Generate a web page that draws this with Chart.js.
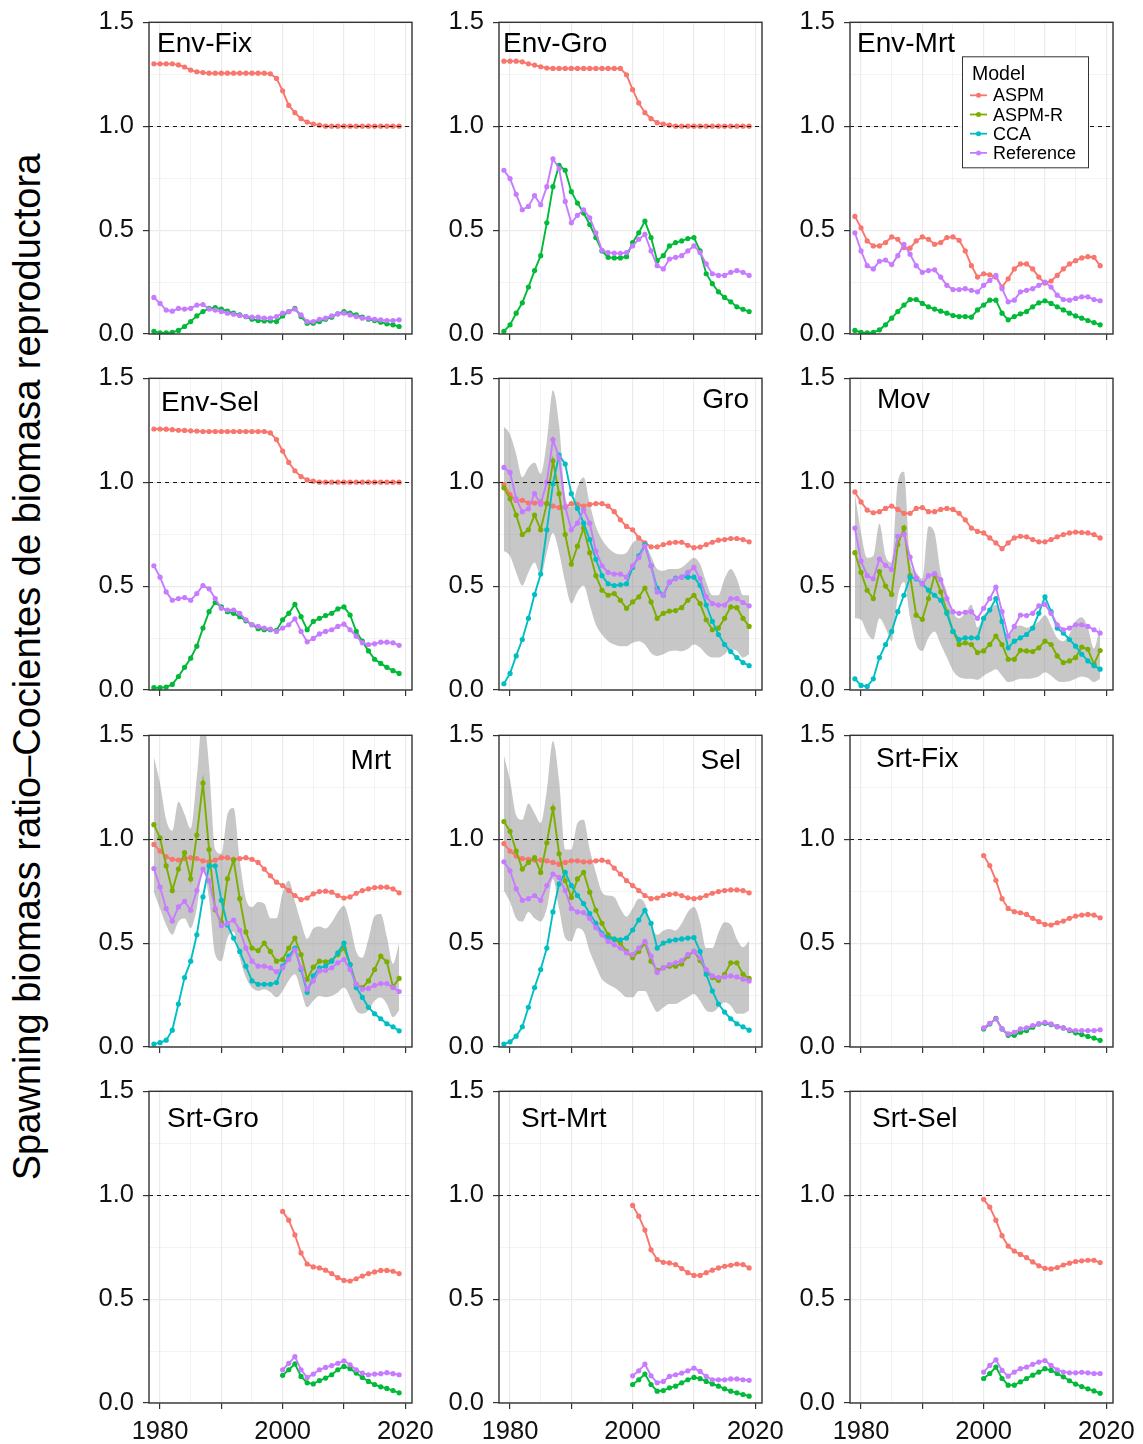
<!DOCTYPE html>
<html>
<head>
<meta charset="utf-8">
<script src="https://cdn.jsdelivr.net/npm/chart.js@4.4.0/dist/chart.umd.min.js"></script>
<style>
  html, body { margin: 0; padding: 0; background: #fff; }
  #page { position: relative; width: 1143px; height: 1444px; overflow: hidden; font-family: "Liberation Sans", Arial, sans-serif; }
  #page canvas { position: absolute; }
  #ytitle { position: absolute; left: 27px; top: 667px; white-space: nowrap; font-size: 38px; line-height: 38px; color: #000;
            transform: translate(-50%, -50%) rotate(-90deg); }
</style>
</head>
<body>
<div id="page"><div id="ytitle">Spawning biomass ratio–Cocientes de biomasa reproductora</div></div>
<script>
// years on the x axis
var years = [1979,1980,1981,1982,1983,1984,1985,1986,1987,1988,1989,1990,1991,1992,1993,1994,1995,1996,1997,1998,
             1999,2000,2001,2002,2003,2004,2005,2006,2007,2008,2009,2010,2011,2012,2013,2014,2015,2016,2017,2018,2019];
var srtYears = [2000,2001,2002,2003,2004,2005,2006,2007,2008,2009,2010,2011,2012,2013,2014,2015,2016,2017,2018,2019];

var xTickValues = [1980, 2000, 2020];
var xTickLabels = ['1980', '2000', '2020'];
var yTickValues = [0, 0.5, 1, 1.5];
var yTickLabels = ['0.0', '0.5', '1.0', '1.5'];
var refLevel = 1.0;
var legendLabels = ['ASPM', 'ASPM-R', 'CCA', 'Reference'];

// Env-Fix
var envFixAspm = [1.30,1.30,1.30,1.30,1.295,1.285,1.27,1.262,1.258,1.255,1.255,1.255,1.255,1.255,1.255,1.255,1.255,1.255,1.255,1.252,
                  1.23,1.17,1.10,1.065,1.036,1.02,1.01,1.005,1.0,1.0,1.0,1.0,1.0,1.0,1.0,1.0,1.0,1.0,1.0,1.0,1.0];
var envFixAspmR = [0.013,0.005,0.005,0.008,0.017,0.036,0.06,0.087,0.108,0.123,0.127,0.12,0.11,0.10,0.092,0.084,0.071,0.065,0.063,0.063,
                   0.06,0.087,0.108,0.123,0.084,0.052,0.052,0.06,0.071,0.081,0.097,0.108,0.10,0.092,0.081,0.071,0.065,0.057,0.049,0.044,0.036];
var envFixRef = [0.176,0.147,0.115,0.11,0.123,0.12,0.123,0.139,0.142,0.12,0.115,0.108,0.10,0.095,0.089,0.084,0.081,0.081,0.076,0.076,
                 0.084,0.10,0.108,0.12,0.092,0.06,0.06,0.071,0.076,0.087,0.097,0.10,0.092,0.084,0.076,0.076,0.071,0.068,0.065,0.065,0.068];

// Env-Gro
var envGroAspm = [1.313,1.313,1.313,1.31,1.30,1.294,1.286,1.28,1.278,1.278,1.278,1.278,1.278,1.278,1.278,1.278,1.278,1.278,1.278,1.278,
                  1.247,1.176,1.112,1.065,1.036,1.017,1.01,1.005,1.0,1.0,1.0,1.0,1.0,1.0,1.0,1.0,1.0,1.0,1.0,1.0,1.0];
var envGroAspmR = [0.013,0.044,0.10,0.15,0.226,0.305,0.377,0.535,0.709,0.812,0.788,0.685,0.63,0.582,0.527,0.464,0.40,0.369,0.366,0.366,
                   0.372,0.44,0.487,0.543,0.464,0.353,0.377,0.424,0.44,0.448,0.459,0.464,0.40,0.29,0.242,0.203,0.176,0.155,0.131,0.119,0.108];
var envGroRef = [0.788,0.748,0.672,0.598,0.614,0.666,0.622,0.709,0.843,0.796,0.638,0.535,0.571,0.598,0.559,0.487,0.403,0.392,0.389,0.388,
                 0.392,0.424,0.456,0.479,0.40,0.329,0.313,0.361,0.369,0.377,0.40,0.424,0.392,0.337,0.29,0.282,0.282,0.297,0.305,0.297,0.282];

// Env-Mrt
var envMrtAspm = [0.566,0.511,0.448,0.424,0.424,0.44,0.467,0.456,0.416,0.413,0.448,0.467,0.456,0.432,0.44,0.464,0.467,0.451,0.40,0.329,
                  0.274,0.29,0.285,0.274,0.226,0.266,0.313,0.337,0.337,0.313,0.274,0.245,0.255,0.282,0.313,0.337,0.353,0.366,0.372,0.369,0.329];
var envMrtAspmR = [0.017,0.008,0.005,0.008,0.02,0.044,0.076,0.108,0.139,0.166,0.166,0.147,0.131,0.12,0.11,0.10,0.089,0.084,0.084,0.081,
                   0.116,0.139,0.163,0.163,0.10,0.068,0.084,0.097,0.108,0.131,0.15,0.16,0.147,0.131,0.116,0.10,0.087,0.076,0.065,0.055,0.044];
var envMrtRef = [0.487,0.40,0.329,0.313,0.35,0.356,0.334,0.377,0.432,0.384,0.329,0.297,0.305,0.309,0.274,0.234,0.214,0.214,0.218,0.21,
                 0.203,0.234,0.258,0.282,0.218,0.155,0.163,0.203,0.21,0.218,0.234,0.25,0.226,0.187,0.166,0.163,0.171,0.179,0.179,0.166,0.16];

// Env-Sel
var envSelAspm = [1.256,1.256,1.255,1.253,1.25,1.249,1.247,1.246,1.244,1.244,1.244,1.244,1.244,1.244,1.244,1.244,1.244,1.244,1.244,1.237,
                  1.205,1.15,1.095,1.055,1.027,1.011,1.005,1.0,1.0,1.0,1.0,1.0,1.0,1.0,1.0,1.0,1.0,1.0,1.0,1.0,1.0];
var envSelAspmR = [0.011,0.011,0.014,0.027,0.065,0.109,0.153,0.211,0.298,0.377,0.421,0.40,0.377,0.369,0.353,0.333,0.314,0.295,0.29,0.29,
                   0.287,0.338,0.369,0.412,0.353,0.29,0.33,0.345,0.358,0.369,0.39,0.40,0.361,0.282,0.235,0.188,0.148,0.128,0.109,0.093,0.08];
var envSelRef = [0.598,0.543,0.472,0.432,0.44,0.445,0.432,0.464,0.503,0.487,0.44,0.393,0.385,0.385,0.369,0.338,0.314,0.306,0.298,0.293,
                 0.282,0.298,0.314,0.342,0.282,0.232,0.248,0.27,0.282,0.29,0.306,0.317,0.29,0.259,0.227,0.219,0.222,0.23,0.23,0.227,0.215];

// Gro
var groAspm = [0.989,0.94,0.912,0.913,0.90,0.90,0.905,0.897,0.885,0.878,0.88,0.897,0.893,0.885,0.893,0.897,0.897,0.885,0.858,0.819,
               0.787,0.771,0.732,0.708,0.689,0.689,0.70,0.708,0.711,0.711,0.696,0.685,0.688,0.70,0.711,0.721,0.724,0.729,0.729,0.724,0.713];
var groAspmR = [0.973,0.92,0.842,0.748,0.771,0.842,0.771,0.897,1.103,0.945,0.748,0.606,0.692,0.779,0.661,0.55,0.48,0.456,0.464,0.432,
                0.393,0.424,0.448,0.49,0.424,0.345,0.369,0.38,0.382,0.396,0.432,0.456,0.416,0.338,0.29,0.298,0.345,0.40,0.396,0.345,0.306];
var groCca = [0.03,0.08,0.164,0.243,0.345,0.459,0.558,0.771,0.992,1.131,1.087,0.945,0.874,0.803,0.724,0.629,0.55,0.511,0.503,0.506,
              0.511,0.59,0.645,0.70,0.598,0.49,0.456,0.519,0.538,0.543,0.543,0.543,0.503,0.409,0.33,0.267,0.219,0.185,0.156,0.132,0.117];
var groRef = [1.071,1.047,0.92,0.858,0.872,0.945,0.894,1.0,1.205,1.118,0.882,0.771,0.803,0.866,0.803,0.669,0.598,0.566,0.558,0.558,
              0.543,0.598,0.637,0.692,0.598,0.472,0.456,0.519,0.535,0.543,0.566,0.59,0.535,0.448,0.416,0.409,0.409,0.44,0.44,0.421,0.405];
var groHigh = [1.268,1.229,1.134,1.024,1.071,1.095,1.04,1.197,1.442,1.276,0.929,0.882,0.976,1.024,0.897,0.787,0.724,0.685,0.661,0.653,
               0.661,0.708,0.724,0.708,0.645,0.582,0.574,0.582,0.582,0.59,0.614,0.637,0.606,0.519,0.456,0.456,0.535,0.582,0.535,0.456,0.456];
var groLow = [0.669,0.645,0.566,0.503,0.566,0.614,0.55,0.661,0.755,0.661,0.519,0.416,0.472,0.503,0.409,0.314,0.267,0.235,0.219,0.211,
              0.211,0.227,0.235,0.219,0.178,0.164,0.172,0.186,0.19,0.186,0.197,0.219,0.204,0.172,0.156,0.156,0.172,0.196,0.188,0.156,0.172];

// Mov
var movAspm = [0.953,0.905,0.866,0.853,0.858,0.874,0.885,0.869,0.85,0.85,0.874,0.878,0.858,0.858,0.869,0.874,0.869,0.85,0.819,0.779,
               0.763,0.756,0.732,0.708,0.68,0.708,0.732,0.74,0.737,0.724,0.713,0.713,0.724,0.737,0.748,0.756,0.76,0.758,0.756,0.748,0.732];
var movAspmR = [0.661,0.566,0.48,0.44,0.57,0.50,0.46,0.70,0.78,0.55,0.36,0.34,0.44,0.554,0.472,0.377,0.282,0.219,0.227,0.219,
                0.18,0.188,0.219,0.259,0.219,0.148,0.148,0.191,0.188,0.185,0.203,0.235,0.219,0.164,0.132,0.14,0.156,0.207,0.196,0.125,0.19];
var movCca = [0.054,0.022,0.017,0.054,0.156,0.219,0.282,0.377,0.456,0.543,0.535,0.511,0.48,0.456,0.432,0.369,0.282,0.243,0.251,0.251,
              0.251,0.345,0.385,0.44,0.33,0.203,0.235,0.251,0.267,0.298,0.369,0.448,0.377,0.298,0.274,0.243,0.211,0.172,0.14,0.117,0.10];
var movRef = [0.779,0.621,0.55,0.535,0.63,0.60,0.58,0.74,0.75,0.64,0.54,0.51,0.55,0.56,0.53,0.44,0.377,0.369,0.374,0.377,
              0.345,0.393,0.44,0.495,0.377,0.259,0.306,0.361,0.358,0.369,0.405,0.412,0.369,0.314,0.29,0.298,0.314,0.314,0.306,0.29,0.274];
var movHigh = [0.945,0.756,0.637,0.645,0.80,0.645,0.614,1.0,1.05,0.62,0.566,0.535,0.787,0.756,0.566,0.472,0.377,0.345,0.37,0.41,
               0.30,0.36,0.39,0.41,0.33,0.25,0.30,0.31,0.30,0.31,0.33,0.36,0.31,0.25,0.235,0.27,0.33,0.35,0.30,0.20,0.31];
var movLow = [0.345,0.338,0.274,0.243,0.345,0.298,0.235,0.45,0.52,0.35,0.219,0.188,0.251,0.282,0.219,0.156,0.093,0.062,0.054,0.054,
              0.049,0.069,0.085,0.10,0.069,0.038,0.045,0.054,0.054,0.057,0.065,0.085,0.069,0.045,0.038,0.042,0.054,0.065,0.058,0.038,0.054];

// Mrt
var mrtAspm = [0.975,0.943,0.915,0.903,0.90,0.907,0.911,0.907,0.896,0.891,0.90,0.911,0.911,0.903,0.907,0.911,0.903,0.888,0.856,0.824,
               0.793,0.777,0.753,0.729,0.709,0.717,0.737,0.748,0.75,0.745,0.729,0.717,0.722,0.74,0.753,0.761,0.767,0.769,0.769,0.761,0.742];
var mrtAspmR = [1.07,1.006,0.872,0.753,0.856,0.935,0.809,1.02,1.27,0.95,0.66,0.60,0.81,0.90,0.714,0.554,0.476,0.464,0.50,0.46,
                0.413,0.421,0.476,0.524,0.445,0.326,0.384,0.413,0.41,0.416,0.445,0.476,0.397,0.302,0.286,0.318,0.373,0.437,0.41,0.29,0.33];
var mrtCca = [0.014,0.021,0.033,0.081,0.207,0.334,0.413,0.54,0.722,0.872,0.872,0.706,0.587,0.524,0.46,0.389,0.318,0.302,0.302,0.302,
              0.31,0.389,0.437,0.476,0.373,0.263,0.342,0.381,0.389,0.413,0.453,0.50,0.397,0.286,0.239,0.191,0.16,0.136,0.112,0.097,0.078];
var mrtRef = [0.859,0.769,0.666,0.606,0.674,0.701,0.658,0.753,0.856,0.80,0.666,0.584,0.595,0.611,0.563,0.476,0.413,0.389,0.389,0.381,
              0.362,0.381,0.421,0.468,0.381,0.278,0.318,0.366,0.369,0.381,0.405,0.421,0.373,0.302,0.278,0.282,0.297,0.305,0.305,0.286,0.267];
var mrtHigh = [1.394,1.267,1.093,1.04,1.18,1.12,1.05,1.30,1.60,1.35,0.95,0.93,1.12,1.15,0.90,0.714,0.674,0.698,0.69,0.62,
               0.62,0.74,0.80,0.70,0.60,0.52,0.57,0.58,0.57,0.60,0.65,0.68,0.59,0.46,0.43,0.52,0.63,0.64,0.53,0.40,0.50];
var mrtLow = [0.745,0.666,0.587,0.54,0.603,0.619,0.571,0.666,0.856,0.714,0.445,0.413,0.524,0.555,0.429,0.334,0.286,0.27,0.278,0.263,
              0.239,0.27,0.32,0.35,0.27,0.191,0.222,0.245,0.24,0.245,0.262,0.286,0.24,0.176,0.16,0.176,0.222,0.238,0.206,0.144,0.176];

// Sel
var selAspm = [0.979,0.943,0.919,0.907,0.903,0.90,0.90,0.896,0.888,0.88,0.888,0.896,0.896,0.891,0.891,0.896,0.899,0.891,0.861,0.832,
               0.801,0.777,0.753,0.729,0.714,0.717,0.729,0.734,0.737,0.729,0.718,0.714,0.718,0.729,0.74,0.748,0.753,0.756,0.756,0.753,0.742];
var selAspmR = [1.085,1.038,0.943,0.856,0.888,0.911,0.84,0.983,1.149,0.93,0.80,0.72,0.809,0.84,0.745,0.658,0.595,0.54,0.516,0.50,
                0.46,0.429,0.46,0.50,0.413,0.369,0.381,0.389,0.389,0.40,0.437,0.46,0.416,0.366,0.334,0.321,0.35,0.405,0.405,0.35,0.33];
var selCca = [0.014,0.025,0.052,0.097,0.191,0.286,0.373,0.476,0.65,0.785,0.84,0.777,0.729,0.69,0.642,0.595,0.547,0.524,0.52,0.516,
              0.524,0.563,0.611,0.658,0.595,0.476,0.50,0.511,0.516,0.52,0.524,0.527,0.46,0.35,0.27,0.207,0.168,0.136,0.112,0.097,0.081];
var selRef = [0.891,0.848,0.761,0.706,0.714,0.729,0.706,0.777,0.832,0.816,0.753,0.666,0.65,0.647,0.619,0.574,0.54,0.508,0.492,0.476,
              0.453,0.445,0.476,0.508,0.437,0.358,0.381,0.397,0.405,0.416,0.445,0.46,0.429,0.373,0.342,0.334,0.337,0.342,0.337,0.326,0.318];
var selHigh = [1.402,1.283,1.117,1.093,1.172,1.125,1.078,1.236,1.473,1.283,0.951,0.951,1.078,1.093,0.951,0.84,0.745,0.729,0.722,0.666,
               0.627,0.666,0.714,0.69,0.587,0.54,0.56,0.568,0.56,0.595,0.65,0.674,0.603,0.476,0.476,0.55,0.60,0.59,0.52,0.48,0.51];
var selLow = [0.753,0.698,0.619,0.603,0.65,0.619,0.603,0.666,0.809,0.666,0.524,0.508,0.571,0.555,0.46,0.389,0.326,0.302,0.286,0.263,
              0.239,0.239,0.27,0.27,0.215,0.168,0.19,0.207,0.207,0.222,0.239,0.255,0.222,0.176,0.168,0.19,0.215,0.199,0.16,0.16,0.176];

// Srt panels (2000-2019)
var srtFixAspm = [0.921,0.873,0.802,0.714,0.667,0.651,0.646,0.638,0.619,0.603,0.59,0.587,0.598,0.606,0.619,0.63,0.635,0.638,0.635,0.622];
var srtFixAspmR = [0.087,0.111,0.138,0.087,0.056,0.056,0.071,0.079,0.095,0.111,0.114,0.108,0.098,0.092,0.079,0.068,0.06,0.051,0.043,0.032];
var srtFixRef = [0.092,0.114,0.135,0.087,0.063,0.071,0.087,0.092,0.103,0.111,0.119,0.111,0.098,0.092,0.083,0.079,0.079,0.079,0.079,0.083];

var srtGroAspm = [0.922,0.88,0.809,0.722,0.669,0.655,0.65,0.639,0.623,0.603,0.59,0.587,0.598,0.611,0.623,0.631,0.638,0.638,0.634,0.623];
var srtGroAspmR = [0.133,0.16,0.188,0.128,0.097,0.092,0.108,0.12,0.136,0.16,0.176,0.165,0.144,0.123,0.104,0.089,0.078,0.07,0.06,0.049];
var srtGroRef = [0.16,0.191,0.223,0.16,0.123,0.139,0.16,0.171,0.18,0.191,0.203,0.184,0.16,0.144,0.136,0.139,0.141,0.146,0.141,0.136];

var srtMrtAspm = [0.951,0.899,0.832,0.737,0.69,0.677,0.674,0.666,0.647,0.627,0.614,0.614,0.627,0.639,0.65,0.658,0.663,0.669,0.666,0.65];
var srtMrtAspmR = [0.089,0.112,0.139,0.089,0.057,0.06,0.073,0.081,0.097,0.112,0.123,0.117,0.104,0.092,0.081,0.068,0.057,0.049,0.041,0.033];
var srtMrtRef = [0.131,0.155,0.187,0.131,0.097,0.104,0.128,0.136,0.144,0.155,0.168,0.152,0.128,0.112,0.112,0.112,0.116,0.116,0.112,0.109];

var srtSelAspm = [0.98,0.943,0.88,0.805,0.755,0.731,0.715,0.70,0.679,0.66,0.648,0.645,0.652,0.664,0.673,0.681,0.684,0.687,0.687,0.676];
var srtSelAspmR = [0.118,0.142,0.173,0.118,0.086,0.086,0.102,0.118,0.134,0.149,0.165,0.157,0.142,0.126,0.107,0.091,0.079,0.068,0.058,0.047];
var srtSelRef = [0.149,0.181,0.208,0.157,0.129,0.149,0.165,0.173,0.186,0.197,0.204,0.181,0.16,0.149,0.145,0.145,0.148,0.145,0.142,0.142];

var COLORS = { 'ASPM': '#F8766D', 'ASPM-R': '#7CAE00', 'CCA': '#00BFC4', 'Reference': '#C77CFF' };
var ENV_GREEN = '#00BA38';
var FONT = '"Liberation Sans", Arial, sans-serif';

// panel geometry (plot area, page px)
var colLeft = [149.3, 499.3, 850];
var rowTop = [18.4, 374.4, 731, 1087.3];
var PLOT_W = 262.5, PLOT_H = 316;
var AX_W = 90, PAD_T = 20, PAD_R = 42, AX_H = 45;

var panels = [
  { title: 'Env-Fix', col: 0, row: 0, tx: 8, ty: 30, green: ENV_GREEN,
    series: [['ASPM', years, envFixAspm], ['ASPM-R', years, envFixAspmR], ['Reference', years, envFixRef]] },
  { title: 'Env-Gro', col: 1, row: 0, tx: 4, ty: 30, green: ENV_GREEN,
    series: [['ASPM', years, envGroAspm], ['ASPM-R', years, envGroAspmR], ['Reference', years, envGroRef]] },
  { title: 'Env-Mrt', col: 2, row: 0, tx: 7, ty: 30, green: ENV_GREEN, legend: true,
    series: [['ASPM', years, envMrtAspm], ['ASPM-R', years, envMrtAspmR], ['Reference', years, envMrtRef]] },
  { title: 'Env-Sel', col: 0, row: 1, tx: 12, ty: 33, green: ENV_GREEN,
    series: [['ASPM', years, envSelAspm], ['ASPM-R', years, envSelAspmR], ['Reference', years, envSelRef]] },
  { title: 'Gro', col: 1, row: 1, tx: -13, ty: 30, right: true, band: [groHigh, groLow],
    series: [['ASPM', years, groAspm], ['ASPM-R', years, groAspmR], ['CCA', years, groCca], ['Reference', years, groRef]] },
  { title: 'Mov', col: 2, row: 1, tx: 27, ty: 30, band: [movHigh, movLow],
    series: [['ASPM', years, movAspm], ['ASPM-R', years, movAspmR], ['CCA', years, movCca], ['Reference', years, movRef]] },
  { title: 'Mrt', col: 0, row: 2, tx: -21, ty: 34, right: true, band: [mrtHigh, mrtLow],
    series: [['ASPM', years, mrtAspm], ['ASPM-R', years, mrtAspmR], ['CCA', years, mrtCca], ['Reference', years, mrtRef]] },
  { title: 'Sel', col: 1, row: 2, tx: -21, ty: 34, right: true, band: [selHigh, selLow],
    series: [['ASPM', years, selAspm], ['ASPM-R', years, selAspmR], ['CCA', years, selCca], ['Reference', years, selRef]] },
  { title: 'Srt-Fix', col: 2, row: 2, tx: 26, ty: 32, green: ENV_GREEN,
    series: [['ASPM', srtYears, srtFixAspm], ['ASPM-R', srtYears, srtFixAspmR], ['Reference', srtYears, srtFixRef]] },
  { title: 'Srt-Gro', col: 0, row: 3, tx: 18, ty: 36, green: ENV_GREEN,
    series: [['ASPM', srtYears, srtGroAspm], ['ASPM-R', srtYears, srtGroAspmR], ['Reference', srtYears, srtGroRef]] },
  { title: 'Srt-Mrt', col: 1, row: 3, tx: 22, ty: 36, green: ENV_GREEN,
    series: [['ASPM', srtYears, srtMrtAspm], ['ASPM-R', srtYears, srtMrtAspmR], ['Reference', srtYears, srtMrtRef]] },
  { title: 'Srt-Sel', col: 2, row: 3, tx: 22, ty: 36, green: ENV_GREEN,
    series: [['ASPM', srtYears, srtSelAspm], ['ASPM-R', srtYears, srtSelAspmR], ['Reference', srtYears, srtSelRef]] }
];

var ORDER = { 'ASPM': 4, 'ASPM-R': 3, 'CCA': 2, 'Reference': 1 };

// white panel, dashed reference line, border, facet label, legend
var panelDeco = {
  id: 'panelDeco',
  beforeDraw: function(chart) {
    var a = chart.chartArea, ctx = chart.ctx;
    ctx.save();
    ctx.fillStyle = '#fff';
    ctx.fillRect(a.left, a.top, a.right - a.left, a.bottom - a.top);
    ctx.restore();
  },
  afterDatasetsDraw: function(chart) {
    var a = chart.chartArea, ctx = chart.ctx;
    var y = Math.round(chart.scales.y.getPixelForValue(refLevel)) + 0.5;
    ctx.save();
    ctx.strokeStyle = '#1a1a1a';
    ctx.lineWidth = 1;
    ctx.setLineDash([4, 4]);
    ctx.beginPath();
    ctx.moveTo(a.left, y);
    ctx.lineTo(a.right, y);
    ctx.stroke();
    ctx.restore();
  },
  afterDraw: function(chart, args, o) {
    var a = chart.chartArea, ctx = chart.ctx;
    ctx.save();
    ctx.strokeStyle = '#333';
    ctx.lineWidth = 1.4;
    ctx.strokeRect(a.left, a.top, a.right - a.left, a.bottom - a.top);

    ctx.fillStyle = '#000';
    ctx.font = '28px ' + FONT;
    ctx.textBaseline = 'alphabetic';
    if (o.right) {
      ctx.textAlign = 'right';
      ctx.fillText(o.title, a.right + o.tx, a.top + o.ty);
    } else {
      ctx.textAlign = 'left';
      ctx.fillText(o.title, a.left + o.tx, a.top + o.ty);
    }

    if (o.legend) {
      var bx = a.left + 112, by = a.top + 34;
      ctx.fillStyle = '#fff';
      ctx.fillRect(bx, by, 126, 111);
      ctx.strokeStyle = '#333';
      ctx.lineWidth = 1;
      ctx.strokeRect(bx + 0.5, by + 0.5, 126, 111);
      ctx.fillStyle = '#000';
      ctx.textAlign = 'left';
      ctx.font = '19.5px ' + FONT;
      ctx.fillText('Model', bx + 10, by + 24);
      ctx.font = '18px ' + FONT;
      legendLabels.forEach(function(lab, i) {
        var ty = by + 45 + i * 19.2;
        var cy = ty - 6;
        ctx.strokeStyle = COLORS[lab];
        ctx.fillStyle = COLORS[lab];
        ctx.lineWidth = 1.8;
        ctx.beginPath();
        ctx.moveTo(bx + 8, cy);
        ctx.lineTo(bx + 25, cy);
        ctx.stroke();
        ctx.beginPath();
        ctx.arc(bx + 16.5, cy, 2.5, 0, Math.PI * 2);
        ctx.fill();
        ctx.fillStyle = '#000';
        ctx.fillText(lab, bx + 31, ty);
      });
    }
    ctx.restore();
  }
};

var page = document.getElementById('page');

panels.forEach(function(p) {
  var W = Math.round(AX_W + PLOT_W + PAD_R), H = Math.round(PAD_T + PLOT_H + AX_H);
  var cv = document.createElement('canvas');
  cv.width = W; cv.height = H;
  cv.style.left = (colLeft[p.col] - AX_W) + 'px';
  cv.style.top = (rowTop[p.row] - PAD_T) + 'px';
  cv.style.width = W + 'px'; cv.style.height = H + 'px';
  page.appendChild(cv);

  var datasets = [];
  p.series.forEach(function(s) {
    var name = s[0];
    var col = (name === 'ASPM-R' && p.green) ? p.green : COLORS[name];
    datasets.push({
      label: name,
      data: s[1].map(function(x, i) { return { x: x, y: s[2][i] }; }),
      borderColor: col, backgroundColor: col, pointBackgroundColor: col,
      pointBorderWidth: 0, pointRadius: 2.6, borderWidth: 1.9,
      tension: 0, fill: false, order: ORDER[name]
    });
  });
  if (p.band) {
    datasets.push({
      label: 'upper',
      data: years.map(function(x, i) { return { x: x, y: p.band[0][i] }; }),
      borderColor: 'rgba(0,0,0,0)', borderWidth: 0, pointRadius: 0,
      backgroundColor: 'rgba(135,135,135,0.47)', fill: '+1', cubicInterpolationMode: 'monotone', order: 20
    });
    datasets.push({
      label: 'lower',
      data: years.map(function(x, i) { return { x: x, y: p.band[1][i] }; }),
      borderColor: 'rgba(0,0,0,0)', borderWidth: 0, pointRadius: 0,
      fill: false, cubicInterpolationMode: 'monotone', order: 21
    });
  }

  var bottomRow = p.row === 3;

  new Chart(cv.getContext('2d'), {
    type: 'line',
    data: { datasets: datasets },
    plugins: [panelDeco],
    options: {
      responsive: false,
      animation: false,
      devicePixelRatio: 1,
      layout: { padding: { left: 0, right: PAD_R, top: PAD_T, bottom: 0 } },
      plugins: {
        legend: { display: false },
        tooltip: { enabled: false },
        panelDeco: { title: p.title, tx: p.tx, ty: p.ty, right: !!p.right, legend: !!p.legend }
      },
      scales: {
        x: {
          type: 'linear', min: 1978.2, max: 2021.1,
          afterBuildTicks: function(s) {
            s.ticks = [1980,1985,1990,1995,2000,2005,2010,2015,2020].map(function(v) { return { value: v }; });
          },
          afterFit: function(s) { s.height = AX_H; },
          border: { display: false },
          grid: {
            color: '#ebebeb',
            lineWidth: function(c) { return c.tick && c.tick.value % 10 === 0 ? 1.2 : 0.6; },
            tickColor: function(c) { return c.tick && c.tick.value % 10 === 0 ? '#333' : 'rgba(0,0,0,0)'; },
            tickLength: 6, tickWidth: 1.2
          },
          ticks: {
            autoSkip: false, maxRotation: 0, padding: 8, color: '#111',
            font: { family: FONT, size: 25.5 },
            callback: function(v) {
              var i = xTickValues.indexOf(v);
              return (bottomRow && i >= 0) ? xTickLabels[i] : '';
            }
          }
        },
        y: {
          type: 'linear', min: 0, max: 1.5,
          afterBuildTicks: function(s) {
            s.ticks = [0,0.25,0.5,0.75,1,1.25,1.5].map(function(v) { return { value: v }; });
          },
          afterFit: function(s) { s.width = AX_W; },
          border: { display: false },
          grid: {
            color: '#ebebeb',
            lineWidth: function(c) { return c.tick && yTickValues.indexOf(c.tick.value) >= 0 ? 1.2 : 0.6; },
            tickColor: function(c) { return c.tick && yTickValues.indexOf(c.tick.value) >= 0 ? '#333' : 'rgba(0,0,0,0)'; },
            tickLength: 6, tickWidth: 1.2
          },
          ticks: {
            autoSkip: false, padding: 9, color: '#111',
            font: { family: FONT, size: 25.5 },
            callback: function(v) {
              var i = yTickValues.indexOf(v);
              return i >= 0 ? yTickLabels[i] : '';
            }
          }
        }
      }
    }
  });
});
</script>
</body>
</html>
